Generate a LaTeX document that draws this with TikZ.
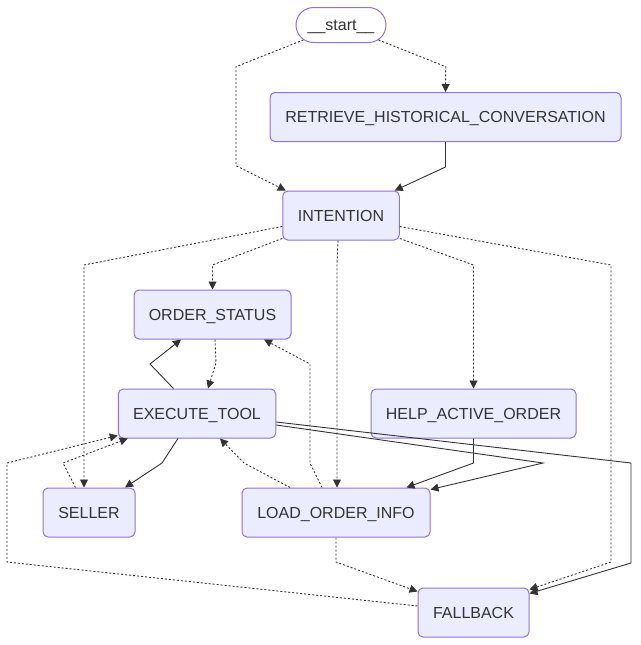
\documentclass[tikz,border=0pt]{standalone}
\usepackage{fontspec}
\setmainfont{Liberation Sans}
\usetikzlibrary{arrows.meta,shapes.misc}
\definecolor{boxfill}{HTML}{ECECFF}
\definecolor{boxline}{HTML}{9370DB}
\definecolor{ink}{HTML}{333333}
\begin{document}
\begin{tikzpicture}[x=1pt,y=-1pt,
  box/.style={draw=boxline, fill=boxfill, line width=1pt, rounded corners=5pt,
    minimum height=49pt, inner sep=0pt, text=ink, text height=11.5pt, text depth=0pt,
    font=\fontsize{16pt}{19pt}\selectfont},
  pill/.style={draw=boxline, fill=white, line width=1pt, rounded rectangle,
    minimum height=35pt, minimum width=90pt, inner sep=0pt, text=ink,
    text height=11.5pt, text depth=0pt, font=\fontsize{16pt}{19pt}\selectfont},
  edge/.style={draw=ink, line width=0.9pt, -{Triangle[length=8pt,width=8pt]}},
  dedge/.style={edge, dash pattern=on 2pt off 2pt},
]
\useasboundingbox (0,0) rectangle (640,645);

\node[pill] (start) at (341,25) {\_\_start\_\_};
\node[box, minimum width=351pt] (retr) at (445.5,117) {RETRIEVE\_HISTORICAL\_CONVERSATION};
\node[box, minimum width=116.5pt] (intent) at (341,215.5) {INTENTION};
\node[box, minimum width=157pt] (ostat) at (212.5,314.5) {ORDER\_STATUS};
\node[box, minimum width=157.5pt] (exec) at (197,413.5) {EXECUTE\_TOOL};
\node[box, minimum width=205pt] (help) at (473.5,413.5) {HELP\_ACTIVE\_ORDER};
\node[box, minimum width=92pt] (seller) at (89,512.5) {SELLER};
\node[box, minimum width=188pt] (load) at (336,512.5) {LOAD\_ORDER\_INFO};
\node[box, minimum width=111pt] (fall) at (473.5,612.5) {FALLBACK};

% start
\draw[dedge] (start) -- (445.7,66.7) -- (retr);
\draw[dedge] (start) -- (236,66.7) -- (236,165.7) -- ([xshift=3.5pt]intent.north west);
% retrieve
\draw[edge] (retr.south) -- (445.5,167) -- ([xshift=-5pt]intent.north east);
% intention
\draw[dedge] ([yshift=-11pt]intent.west) -- (84,265) -- ([xshift=-5pt]seller.north);
\draw[dedge] ([yshift=2pt]intent.south west) -- (212.5,265) -- (ostat.north);
\draw[dedge] ([xshift=-3pt]intent.south) -- (337,265) -- ([xshift=1pt]load.north);
\draw[dedge] ([yshift=2pt]intent.south east) -- (473.5,265) -- (help.north);
\draw[dedge] ([yshift=-11pt]intent.east) -- (611,265) -- (611,562) -- ([yshift=-2pt]fall.north east);
% order status <-> execute
\draw[dedge] ([xshift=2.5pt]ostat.south) -- (216,363) -- ([xshift=11pt]exec.north);
\draw[edge] ([xshift=-23.5pt]exec.north) -- (150,364) -- ([xshift=-31.5pt]ostat.south);
% load -> order status
\draw[dedge] ([xshift=-14pt]load.north) -- (310,463) -- (310,364) -- ([xshift=51.5pt]ostat.south);
% execute <-> seller
\draw[edge] ([xshift=-19pt]exec.south) -- (162,463) -- ([xshift=-10.5pt]seller.north east);
\draw[dedge] ([xshift=-13.5pt]seller.north) -- (63,463) -- ([xshift=10pt]exec.south west);
% fallback -> execute
\draw[dedge] ([yshift=6.5pt]fall.west) -- (7,562) -- (7,463) -- ([yshift=3pt]exec.south west);
% load -> execute
\draw[dedge] ([xshift=-46pt]load.north) -- (244,463) -- ([xshift=23pt]exec.south);
% execute -> load, fallback
\draw[edge] ([yshift=-11.5pt]exec.east) -- (543,463) -- ([yshift=-2pt]load.north east);
\draw[edge] ([yshift=-8.5pt]exec.east) -- (631,463) -- (631,563) -- ([yshift=-6pt]fall.north east);
% help -> load
\draw[edge] (help.south) -- (473.5,463) -- ([xshift=-24pt]load.north east);
% load -> fallback
\draw[dedge] (load.south) -- (336,562) -- ([yshift=-4pt]fall.north west);
\end{tikzpicture}
\end{document}
